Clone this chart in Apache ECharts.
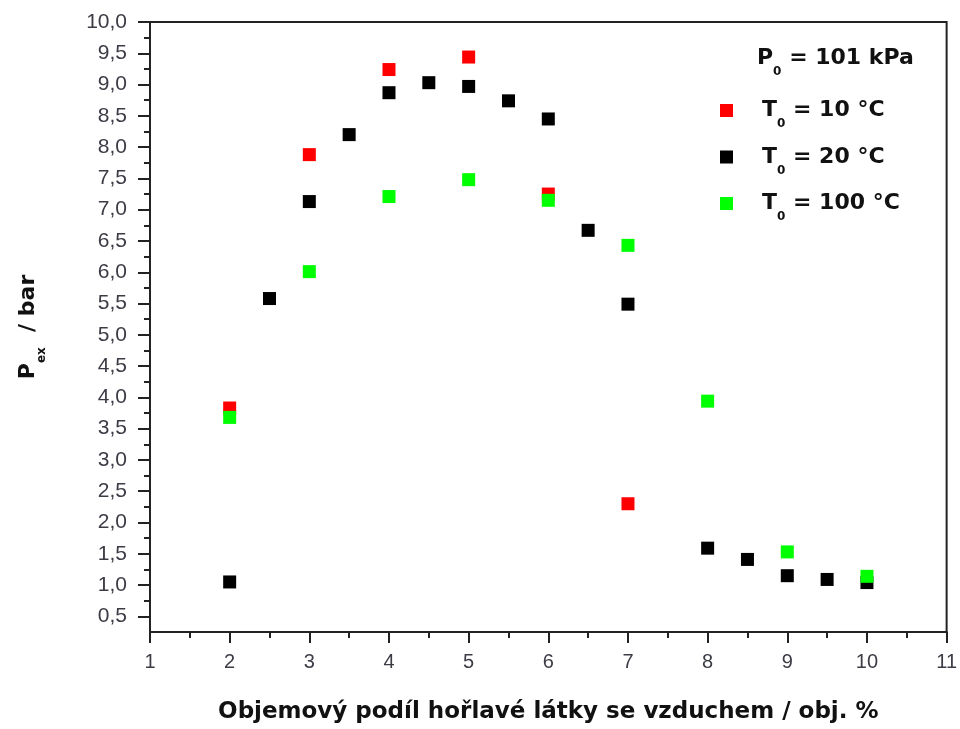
<!DOCTYPE html>
<html><head><meta charset="utf-8">
<script src="https://cdn.jsdelivr.net/npm/echarts@6/dist/echarts.min.js"></script>
<style>html,body{margin:0;padding:0;background:#fff}#c{width:960px;height:729px}</style>
</head><body><div id="c"></div>
<script>
// ---- data ----
const xT10 = [2, 3, 4, 5, 6, 7];
const yT10 = [3.83, 7.88, 9.24, 9.44, 7.25, 2.30];
const xT20 = [2, 2.5, 3, 3.5, 4, 4.5, 5, 5.5, 6, 6.5, 7, 8, 8.5, 9, 9.5, 10];
const yT20 = [1.05, 5.58, 7.13, 8.20, 8.87, 9.03, 8.97, 8.74, 8.45, 6.67, 5.49, 1.59, 1.41, 1.15, 1.09, 1.04];
const xT100 = [2, 3, 4, 5, 6, 7, 8, 9, 10];
const yT100 = [3.68, 6.01, 7.21, 7.48, 7.15, 6.43, 3.94, 1.53, 1.14];
const seriesNames = ['T0 = 10 °C', 'T0 = 20 °C', 'T0 = 100 °C'];
const legendLabels = ['= 10 °C', '= 20 °C', '= 100 °C'];
const yTickValues = [0.5, 1.0, 1.5, 2.0, 2.5, 3.0, 3.5, 4.0, 4.5, 5.0, 5.5, 6.0, 6.5, 7.0, 7.5, 8.0, 8.5, 9.0, 9.5, 10.0];
const yMinorTickValues = [0.75, 1.25, 1.75, 2.25, 2.75, 3.25, 3.75, 4.25, 4.75, 5.25, 5.75, 6.25, 6.75, 7.25, 7.75, 8.25, 8.75, 9.25, 9.75];
const xTitle = 'Objemový podíl hořlavé látky se vzduchem / obj. %';

const FONT = '"Liberation Sans", Arial, sans-serif';
const TFONT = '"DejaVu Sans", "Liberation Sans", sans-serif';
const AX = '#222';
const LBL = '#3c3c46';

function zip(xs, ys) { return xs.map((x, i) => [x, ys[i]]); }

const richMain = {
  m: { fontFamily: TFONT, fontWeight: 'bold', fontSize: 22, color: '#111', lineHeight: 22 },
  s: { fontFamily: TFONT, fontWeight: 'bold', fontSize: 12, color: '#111', lineHeight: 12, padding: [27, 0, 0, 0] },
  g: { width: 24 }
};

const chart = echarts.init(document.getElementById('c'), null, { renderer: 'canvas' });
chart.setOption({
  animation: false,
  backgroundColor: '#fff',
  title: {
    text: '{m|P}{s|0}{m| = 101 kPa}',
    left: 757, top: 47, padding: 0,
    textStyle: { rich: richMain }
  },
  legend: {
    data: seriesNames,
    orient: 'vertical',
    left: 720, top: 91,
    itemWidth: 13, itemHeight: 13,
    itemGap: 7.5,
    padding: 0,
    icon: 'rect',
    formatter: function (name) {
      const i = seriesNames.indexOf(name);
      return '{g| }{m|T}{s|0}{m| ' + legendLabels[i] + '}';
    },
    textStyle: { rich: richMain }
  },
  grid: { left: 150, right: 11, top: 22, bottom: 96, show: true, borderColor: AX, borderWidth: 2, backgroundColor: 'transparent' },
  xAxis: {
    type: 'value', min: 1, max: 11, interval: 1,
    name: xTitle, nameLocation: 'middle', nameGap: 69,
    nameTextStyle: { fontFamily: TFONT, fontWeight: 'bold', fontSize: 23, color: '#111' },
    axisLine: { show: true, lineStyle: { color: AX, width: 2 } },
    axisTick: { show: true, inside: false, length: 11, lineStyle: { color: AX, width: 2 } },
    minorTick: { show: true, splitNumber: 2, length: 6, lineStyle: { color: AX, width: 2 } },
    splitLine: { show: false },
    minorSplitLine: { show: false },
    axisLabel: { fontFamily: FONT, fontSize: 20, color: LBL, margin: 20 }
  },
  yAxis: [{
    type: 'value', min: 0.25, max: 10,
    name: '{m|P}{s|ex}{m|  / bar}', nameLocation: 'middle', nameRotate: 90, nameGap: 111,
    nameTextStyle: { rich: richMain },
    axisLine: { show: true, lineStyle: { color: AX, width: 2 } },
    axisTick: { show: true, inside: false, length: 12, customValues: yTickValues, lineStyle: { color: AX, width: 2 } },
    splitLine: { show: false },
    axisLabel: {
      customValues: yTickValues,
      fontFamily: FONT, fontSize: 21, color: LBL, margin: 23,
      formatter: v => v.toFixed(1).replace('.', ',')
    }
  }, {
    type: 'value', min: 0.25, max: 10, position: 'left',
    axisLine: { show: false },
    axisTick: { show: true, inside: false, length: 6, customValues: yMinorTickValues, lineStyle: { color: AX, width: 2 } },
    axisLabel: { show: false },
    splitLine: { show: false }
  }],
  series: [
    { name: seriesNames[0], type: 'scatter', symbol: 'rect', symbolSize: 13, itemStyle: { color: '#ff0000', opacity: 1 }, data: zip(xT10, yT10) },
    { name: seriesNames[1], type: 'scatter', symbol: 'rect', symbolSize: 13, itemStyle: { color: '#000000', opacity: 1 }, data: zip(xT20, yT20) },
    { name: seriesNames[2], type: 'scatter', symbol: 'rect', symbolSize: 13, itemStyle: { color: '#00ff00', opacity: 1 }, data: zip(xT100, yT100) }
  ]
});
</script></body></html>
